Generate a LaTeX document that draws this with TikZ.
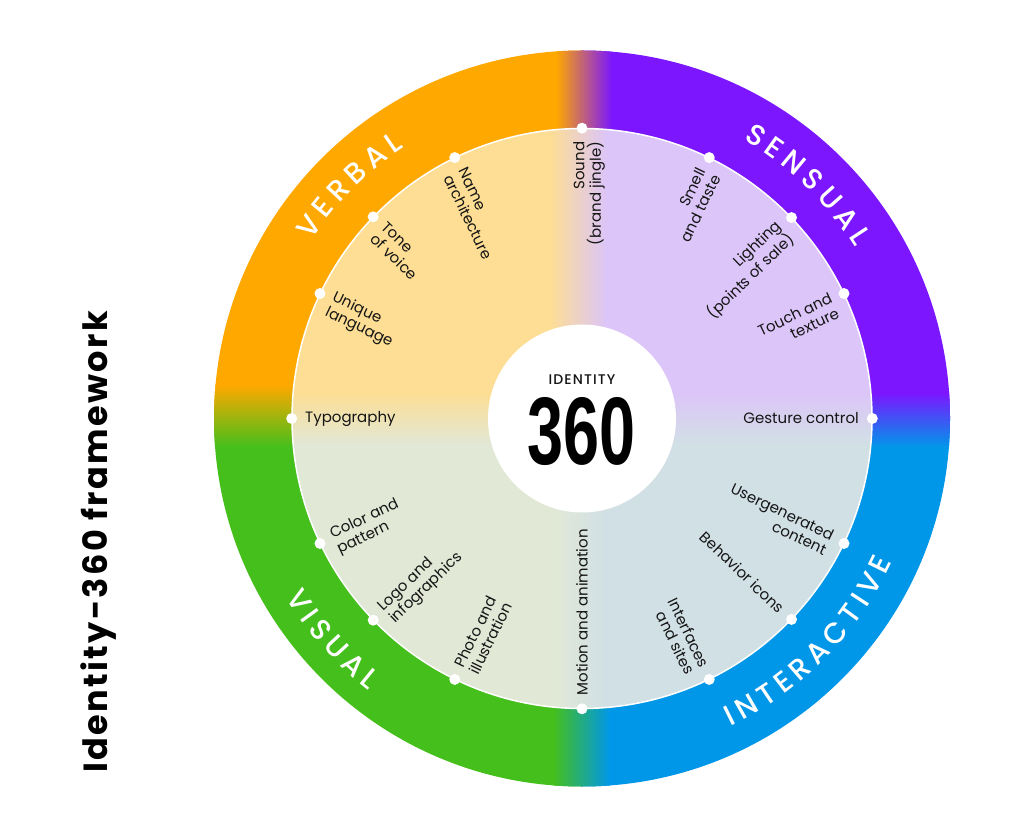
\documentclass[tikz,border=0pt]{standalone}
\usepackage{fontspec}
\usepackage{graphicx}
\setmainfont{Poppins}
\newfontfamily\ringfont{Poppins Medium}
\newfontfamily\idfont{Poppins Medium}[LetterSpace=8]
\newfontfamily\titlefont{Poppins Bold}[LetterSpace=7]
\newfontfamily\numfont{Liberation Sans}
\usetikzlibrary{calc}
\definecolor{cOr}{HTML}{FFA800}
\definecolor{cPu}{HTML}{7B16FF}
\definecolor{cBl}{HTML}{0097E9}
\definecolor{cGr}{HTML}{45BF1B}
\definecolor{lOr}{HTML}{FDDE94}
\definecolor{lPu}{HTML}{DCC5F8}
\definecolor{lBl}{HTML}{D1E0E5}
\definecolor{lGr}{HTML}{E1E8D6}
\definecolor{txt}{HTML}{151515}
\newdimen\chw
\newcommand\ringsize{\ringfont\fontsize{29}{32}\selectfont}
\newcommand\measureletter[1]{%
  \setbox0=\hbox{\ringsize #1}\global\chw=\wd0
  \expandafter\xdef\csname rw#1\endcsname{\the\chw}}
% #1 id, #2 centre angle, #3 baseline radius, #4 tracking, #5 sign, #6 letters
\newcommand\ringword[6]{%
  \gdef\accw{0}%
  \foreach \ch in {#6}{%
    \edef\cw{\csname rw\ch\endcsname}%
    \pgfmathsetmacro\rtmp{\accw+\cw+#4}%
    \xdef\accw{\rtmp}%
  }%
  \pgfmathsetmacro\rtotw{\accw-#4}%
  \gdef\accw{0}%
  \foreach \ch [count=\k] in {#6}{%
    \edef\cw{\csname rw\ch\endcsname}%
    \pgfmathsetmacro\rpos{\accw+0.5*\cw-0.5*\rtotw}%
    \pgfmathsetmacro\rang{#2-(#5)*\rpos/(#3)*180/pi}%
    \pgfmathsetmacro\rrot{\rang-(#5)*90}%
    \node[ringletter, rotate=\rrot] (#1-\k) at ($(C)+(\rang:#3)$) {\ch};
    \pgfmathsetmacro\rtmp{\accw+\cw+#4}%
    \xdef\accw{\rtmp}%
  }%
}
% left-side label: #1 name, #2 angle, #3 offset, #4 text
\newcommand\leftlbl[4]{%
  \node[lbl, rotate=#2-180, anchor=west, align=left] (#1) at ($(C)+(#2:277)+(#2+90:#3)$) {#4};}
% right-side label
\newcommand\rightlbl[4]{%
  \node[lbl, rotate=#2, anchor=east, align=right] (#1) at ($(C)+(#2:277)+(#2-90:#3)$) {#4};}
\begin{document}
\measureletter{V}\measureletter{E}\measureletter{R}\measureletter{B}%
\measureletter{A}\measureletter{L}\measureletter{S}\measureletter{N}%
\measureletter{U}\measureletter{I}\measureletter{T}\measureletter{C}%
\begin{tikzpicture}[x=1pt,y=1pt,
  ringletter/.style={anchor=base, inner sep=0pt, text=white, font=\ringsize},
  lbl/.style={inner sep=0pt, text=txt, font=\fontsize{15}{16.5}\selectfont},
  dot/.style={circle, fill=white, inner sep=0pt, minimum size=11pt}]
\useasboundingbox (0,0) rectangle (1024,838);
\fill[white] (0,0) rectangle (1024,838);
\coordinate (C) at (582,419.5);
% outer ring
\begin{scope}
  \clip (C) circle (368);
  \fill[cOr] (C) rectangle ++(-380,380);
  \fill[cPu] (C) rectangle ++(380,380);
  \fill[cBl] (C) rectangle ++(380,-380);
  \fill[cGr] (C) rectangle ++(-380,-380);
  \shade[left color=cOr, right color=cPu] (556,419.5) rectangle (612,800);
  \shade[left color=cGr, right color=cBl] (553,40) rectangle (610,419.5);
  \shade[top color=cOr, bottom color=cGr] (200,391) rectangle (582,453);
  \shade[top color=cPu, bottom color=cBl] (582,391) rectangle (960,445);
\end{scope}
% inner disc
\begin{scope}
  \clip (C) circle (290);
  \fill[lOr] (C) rectangle ++(-300,300);
  \fill[lPu] (C) rectangle ++(300,300);
  \fill[lBl] (C) rectangle ++(300,-300);
  \fill[lGr] (C) rectangle ++(-300,-300);
  \shade[left color=lOr, right color=lPu] (550,419.5) rectangle (606,720);
  \shade[left color=lGr, right color=lBl] (555,120) rectangle (605,419.5);
  \shade[top color=lOr, bottom color=lGr] (280,393) rectangle (582,445);
  \shade[top color=lPu, bottom color=lBl] (582,393) rectangle (880,445);
\end{scope}
\draw[white, line width=1.5pt] (C) circle (290);
% centre
\node[circle, fill=white, minimum size=188pt, inner sep=0pt] (core) at (C) {};
\node[inner sep=0pt, font=\idfont\fontsize{14}{14}\selectfont, text=txt] (idt) at (582,458) {IDENTITY};
\node[inner sep=0pt] (num) at (582,406.5) {\resizebox{108pt}{67pt}{\numfont\bfseries 360}};
% ring words
\ringword{verbal}{135}{324}{5.5}{1}{V,E,R,B,A,L}
\ringword{sensual}{46}{322}{5.5}{1}{S,E,N,S,U,A,L}
\ringword{visual}{221.5}{346}{5.5}{-1}{V,I,S,U,A,L}
\ringword{interactive}{-44.5}{342}{5.5}{-1}{I,N,T,E,R,A,C,T,I,V,E}
% dots
\foreach \a/\n in {90/d1,116/d2,136/d3,154.5/d4,180/d5,205.5/d6,224/d7,244/d8,270/d9,296/d10,316.2/d11,334.5/d12,0/d13,25.5/d14,43.8/d15,64/d16}
  \node[dot] (\n) at ($(C)+(\a:290.3)$) {};
% labels
\rightlbl{sound}{90}{7}{Sound\\(brand jingle)}
\leftlbl{name}{116}{6}{Name\\architecture}
\leftlbl{tone}{136}{6}{Tone\\of voice}
\leftlbl{unique}{154.5}{6}{Unique\\language}
\leftlbl{typo}{180}{0}{Typography}
\leftlbl{color}{205.5}{6}{Color and\\pattern}
\leftlbl{logo}{224}{6}{Logo and\\infographics}
\leftlbl{photo}{244}{6}{Photo and\\illustration}
\leftlbl{motion}{270}{0}{Motion and animation}
\rightlbl{smell}{64}{6}{Smell\\and taste}
\rightlbl{light}{43.8}{6}{Lighting\\(points of sale)}
\rightlbl{touch}{25.5}{6}{Touch and\\texture}
\rightlbl{gesture}{0}{0}{Gesture control}
\rightlbl{ugc}{-25.5}{6}{Usergenerated\\content}
\rightlbl{behav}{-43.8}{0}{Behavior icons}
\rightlbl{iface}{-64}{6}{Interfaces\\and sites}
% title
\node[rotate=90, anchor=base, inner sep=0pt, text=black, font=\titlefont\fontsize{33.5}{34}\selectfont] (title) at (107,296) {Identity-360 framework};
\end{tikzpicture}
\end{document}
